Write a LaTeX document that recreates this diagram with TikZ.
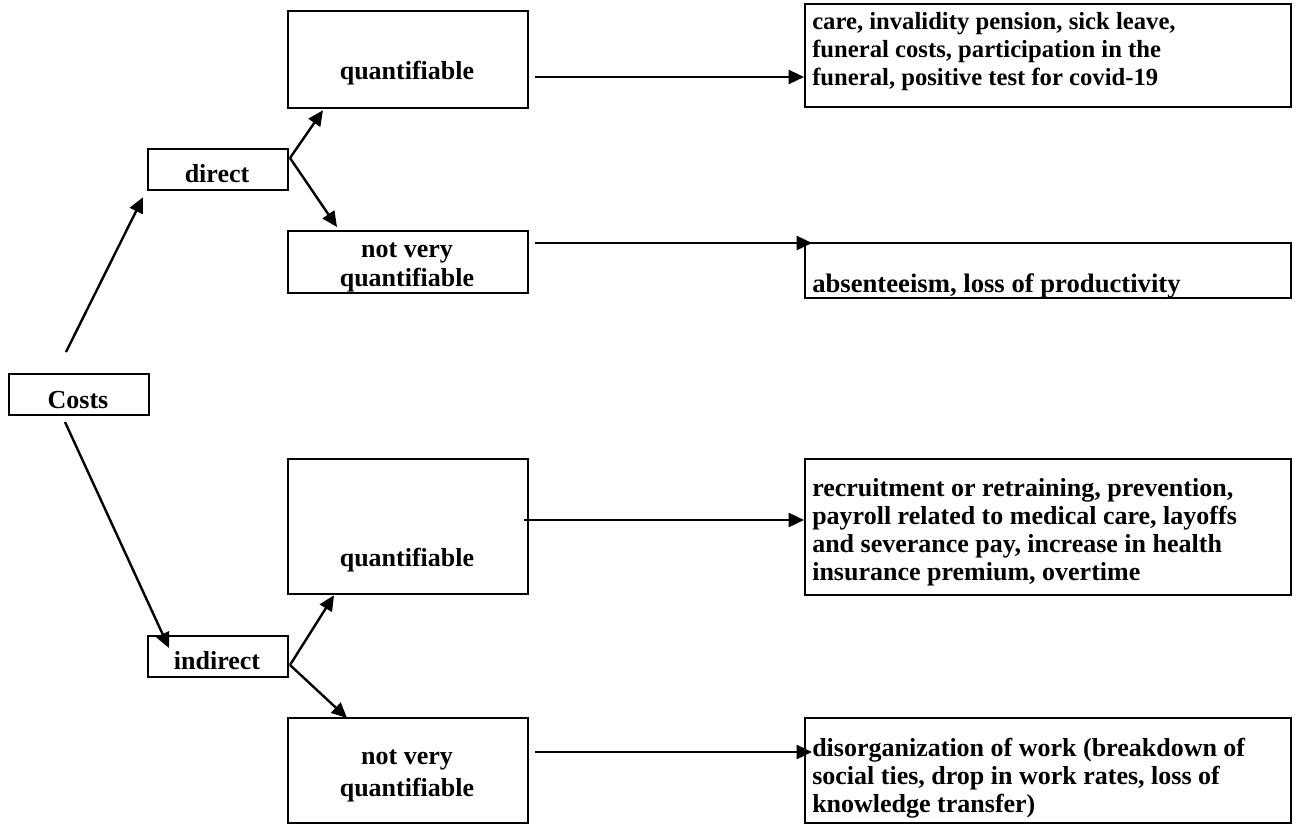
\documentclass[tikz,border=0pt]{standalone}
\usepackage{fontspec}
\setmainfont{Liberation Serif}
\usetikzlibrary{arrows.meta,calc}
\begin{document}
\begin{tikzpicture}[x=0.75pt,y=-0.75pt,
  box/.style={draw,line width=1.7pt,inner sep=0pt,anchor=north west},
  lbl/.style={font=\fontsize{19.5}{21.4}\selectfont\bfseries,inner sep=0pt,anchor=base},
  ltxt/.style={font=\fontsize{19.5}{21}\selectfont\bfseries,inner sep=0pt,anchor=base west},
  arr/.style={line width=1.8pt,-{Triangle[length=11.5pt,width=10.5pt]}}]
\useasboundingbox[fill=white] (0,0) rectangle (1296,825);

% boxes
\node[box,minimum width=105pt,minimum height=30.75pt] (costs) at (8,373) {};
\node[box,minimum width=105pt,minimum height=30.75pt] (direct) at (147,148) {};
\node[box,minimum width=105pt,minimum height=30.75pt] (indirect) at (147,635) {};
\node[box,minimum width=180pt,minimum height=72.75pt] (q1) at (287,10) {};
\node[box,minimum width=180pt,minimum height=46.5pt] (n1) at (287,230) {};
\node[box,minimum width=180pt,minimum height=101.25pt] (q2) at (287,458) {};
\node[box,minimum width=180pt,minimum height=78.75pt] (n2) at (287,717) {};
\node[box,minimum width=364.5pt,minimum height=77.25pt] (r1) at (804,3) {};
\node[box,minimum width=364.5pt,minimum height=41.25pt] (r2) at (804,242) {};
\node[box,minimum width=364.5pt,minimum height=102pt] (r3) at (804,458) {};
\node[box,minimum width=364.5pt,minimum height=78.75pt] (r4) at (804,717) {};

% labels
\node[lbl] (tcosts) at (78,408) {Costs};
\node[lbl] (tdirect) at (217,182) {direct};
\node[lbl] (tindirect) at (217,669) {indirect};
\node[lbl] (tq1) at (407,79) {quantifiable};
\node[lbl] (tn1a) at (407,257) {not very};
\node[lbl] (tn1b) at (407,286) {quantifiable};
\node[lbl] (tq2) at (407,566) {quantifiable};
\node[lbl] (tn2a) at (407,764) {not very};
\node[lbl] (tn2b) at (407,796) {quantifiable};

\node[ltxt,font=\fontsize{18.5}{21}\selectfont\bfseries] (tr1) at (812,29.5) {\begin{tabular}[t]{@{}l@{}}care, invalidity pension, sick leave,\\ funeral costs, participation in the\\ funeral, positive test for covid-19\end{tabular}};
\node[ltxt,font=\fontsize{20}{21}\selectfont\bfseries] (tr2) at (812,292) {absenteeism, loss of productivity};
\node[ltxt] (tr3) at (812,496) {\begin{tabular}[t]{@{}l@{}}recruitment or retraining, prevention,\\ payroll related to medical care, layoffs\\ and severance pay, increase in health\\ insurance premium, overtime\end{tabular}};
\node[ltxt] (tr4) at (812,756) {\begin{tabular}[t]{@{}l@{}}disorganization of work (breakdown of\\ social ties, drop in work rates, loss of\\ knowledge transfer)\end{tabular}};

% connector end points
\coordinate (cu) at (66,352);
\coordinate (cl) at (65,422);
\coordinate (dv) at (290,158);
\coordinate (iv) at (290,665);

\draw[arr] (cu) -- ($(direct.south west)+(-4,6)$);
\draw[arr] (cl) -- ($(indirect.north west)+(22,13)$);
\draw[arr] (dv) -- ($(q1.south west)+(36,1)$);
\draw[arr] (dv) -- ($(n1.north west)+(50,-3)$);
\draw[arr] (iv) -- ($(q2.south west)+(47,0)$);
\draw[arr] (iv) -- ($(n2.north west)+(60,1)$);
\draw[arr] ($(q1.north east)+(6,67)$) -- ($(r1.north west)+(0,74)$);
\draw[arr] ($(n1.north east)+(6,13)$) -- ($(r2.north west)+(8,1)$);
\draw[arr] ($(q2.north east)+(-5,62)$) -- ($(r3.north west)+(0,62)$);
\draw[arr] ($(n2.north east)+(6,35)$) -- ($(r4.north west)+(8,35)$);
\end{tikzpicture}
\end{document}
